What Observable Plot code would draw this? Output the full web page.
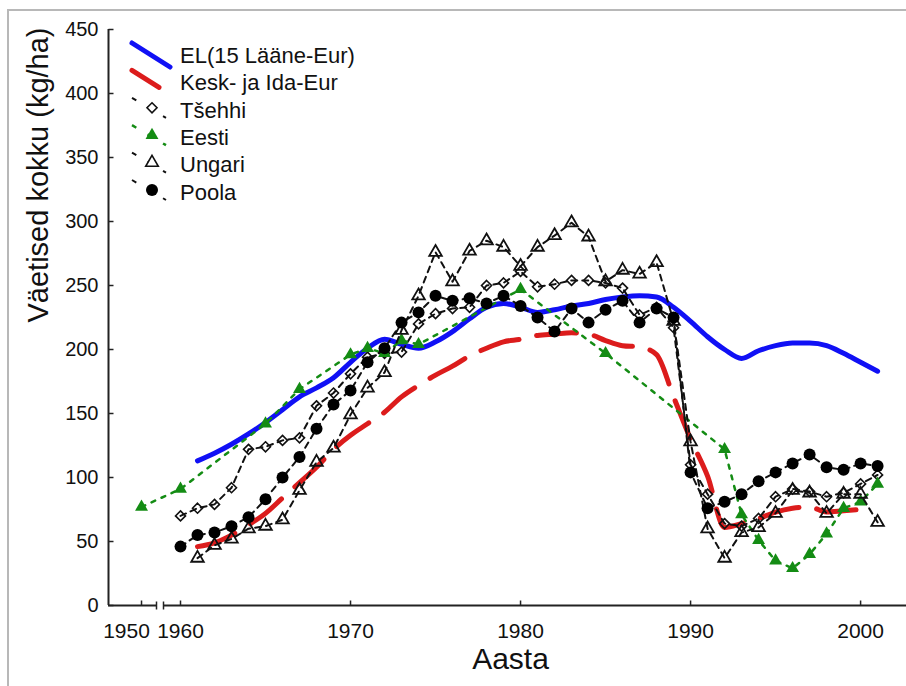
<!DOCTYPE html>
<html><head><meta charset="utf-8">
<script src="https://cdn.jsdelivr.net/npm/d3@7"></script>
<script src="https://cdn.jsdelivr.net/npm/@observablehq/plot@0.6"></script>
<style>
body{margin:0;background:#fff;font-family:"Liberation Sans",Arial,sans-serif;}
#wrap{position:relative;width:906px;height:686px;overflow:hidden;background:#fff;}
#border{position:absolute;left:7px;top:9px;width:920px;height:700px;border-top:2px solid #b8b8b8;border-left:2px solid #b8b8b8;}
#chart{position:absolute;left:0;top:0;}
#legend{position:absolute;left:0;top:0;}
</style></head><body>
<div id="wrap"><div id="border"></div><div id="chart"></div><svg id="legend" width="400" height="210"></svg></div>
<script>
// ---- data ----
const yearsFrom1960 = [1960,1961,1962,1963,1964,1965,1966,1967,1968,1969,1970,1971,1972,1973,1974,1975,1976,1977,1978,1979,1980,1981,1982,1983,1984,1985,1986,1987,1988,1989,1990,1991,1992,1993,1994,1995,1996,1997,1998,1999,2000,2001];
const yearsFrom1961 = yearsFrom1960.slice(1);
const yearsTo2000 = yearsFrom1961.slice(0, 40);

const elValues = [113,119,126,134,143,153,163,170,178,190,201,208,204,201,206,214,224,233,236,233,229,231,234,236,239,241,242,241,233,222,210,200,193,199,203,205,205,203,197,190,183];
const keskIdaValues = [46,49,55,63,72,84,96,108,122,133,142,151,163,172,180,187,195,201,206,208,211,212,213,212,207,203,202,196,163,130,101,61,64,68,73,76,77,73,74,75];
const tsehhiValues = [70,76,79,92,122,124,129,131,156,166,181,194,197,198,220,228,232,233,250,252,261,249,251,254,254,252,248,227,233,217,110,87,64,62,68,85,91,89,85,88,95,102];
const eestiYears = [1950,1960,1965,1967,1970,1971,1972,1973,1974,1980,1985,1992,1993,1994,1995,1996,1997,1998,1999,2000,2001];
const eestiValues = [77,91,142,169,196,201,197,207,204,247,197,122,71,51,35,29,40,56,76,81,95];
const ungariValues = [37,47,52,60,62,67,90,112,123,149,170,182,215,242,276,253,277,285,280,265,280,289,299,288,253,262,259,268,222,128,60,37,57,61,72,90,88,72,87,87,65];
const poolaValues = [46,55,57,62,69,83,100,116,138,157,168,190,201,221,229,242,238,240,236,242,234,225,214,232,221,231,238,221,232,225,104,76,81,87,97,104,111,118,108,106,111,109];

const seriesNames = ["EL(15 Lääne-Eur)","Kesk- ja Ida-Eur","Tšehhi","Eesti","Ungari","Poola"];
const xTickValues = [1950,1960,1970,1980,1990,2000];
const yTickValues = [0,50,100,150,200,250,300,350,400,450];
const xTitle = "Aasta";
const yTitle = "Väetised kokku (kg/ha)";

// ---- scale config (broken axis) ----
const xDomain = [1948.06, 1950.88, 1959.0, 2002.7];
const xRange = [108, 156, 163, 906];

const pts = (years, vals) => years.map((y, i) => ({year: y, value: vals[i]}));
const el = pts(yearsFrom1961, elValues);
const ki = pts(yearsTo2000, keskIdaValues);
const ts = pts(yearsFrom1960, tsehhiValues);
const ee = pts(eestiYears, eestiValues);
const un = pts(yearsFrom1961, ungariValues);
const po = pts(yearsFrom1960, poolaValues);

const BLUE = "#1010f5", RED = "#dc1c1c", GREEN = "#148c14", BLACK = "#111";
const blackDash = "6,5", greenDash = "4,7";

const tickUp = {draw(c){c.moveTo(0,0);c.lineTo(0,-5);}};
const tickRight = {draw(c){c.moveTo(0,0);c.lineTo(5,0);}};
const breakBar = {draw(c){c.moveTo(0,-4);c.lineTo(0,4);}};

const axisFont = "Liberation Sans, Arial, sans-serif";

const chart = Plot.plot({
  width: 906, height: 686,
  marginLeft: 108, marginRight: 0, marginTop: 29, marginBottom: 81,
  style: {fontFamily: axisFont, background: "transparent", overflow: "visible"},
  x: {type: "linear", domain: xDomain, range: xRange, axis: null},
  y: {domain: [0, 450], axis: null},
  marks: [
    // axis lines
    Plot.ruleX([xDomain[0]], {stroke: "#222", strokeWidth: 2}),
    Plot.ruleY([0], {x1: xDomain[0], x2: xDomain[1], stroke: "#222", strokeWidth: 2}),
    Plot.ruleY([0], {x1: xDomain[2], x2: xDomain[3], stroke: "#222", strokeWidth: 2}),
    Plot.dot([xDomain[1], xDomain[2]], {x: d => d, y: 0, symbol: breakBar, stroke: "#222", strokeWidth: 1.5}),
    Plot.dot(xTickValues, {x: d => d, y: 0, symbol: tickUp, stroke: "#222", strokeWidth: 1.5}),
    Plot.dot(yTickValues, {x: xDomain[0], y: d => d, symbol: tickRight, stroke: "#222", strokeWidth: 1.5}),
    Plot.axisX(xTickValues.filter(d => d !== 1950), {tickSize: 0, tickPadding: 18, fontSize: 21, label: null, tickFormat: d => String(d), fill: "#111"}),
    Plot.axisX([1950], {tickSize: 0, tickPadding: 18, fontSize: 21, label: null, tickFormat: d => String(d), dx: -15, fill: "#111"}),
    Plot.axisY(yTickValues, {tickSize: 0, tickPadding: 10, fontSize: 20, label: null, fill: "#111"}),
    Plot.text([yTitle], {text: d => d, frameAnchor: "left", rotate: -90, dx: -70, dy: 5, fontSize: 29, fill: "#111"}),
    Plot.text([xTitle], {text: d => d, frameAnchor: "bottom", dx: 3, dy: 63, fontSize: 30, fill: "#111"}),
    // series
    Plot.line(el, {x: "year", y: "value", stroke: BLUE, strokeWidth: 5, curve: "monotone-x", strokeLinecap: "round"}),
    Plot.line(ki, {x: "year", y: "value", stroke: RED, strokeWidth: 5, curve: "monotone-x", strokeDasharray: "40,18", strokeLinecap: "round"}),
    Plot.line(ts, {x: "year", y: "value", stroke: BLACK, strokeWidth: 2, strokeDasharray: blackDash}),
    Plot.dot(ts, {x: "year", y: "value", symbol: "diamond2", r: 4.5, stroke: BLACK, strokeWidth: 1.6, fill: "none"}),
    Plot.line(ee, {x: "year", y: "value", stroke: GREEN, strokeWidth: 2.5, strokeDasharray: greenDash}),
    Plot.dot(ee, {x: "year", y: "value", symbol: "triangle", r: 4.8, fill: GREEN, stroke: "none"}),
    Plot.line(un, {x: "year", y: "value", stroke: BLACK, strokeWidth: 2, strokeDasharray: blackDash}),
    Plot.dot(un, {x: "year", y: "value", symbol: "triangle2", r: 6, stroke: BLACK, strokeWidth: 1.8, fill: "none"}),
    Plot.line(po, {x: "year", y: "value", stroke: BLACK, strokeWidth: 2, strokeDasharray: blackDash}),
    Plot.dot(po, {x: "year", y: "value", symbol: "circle", r: 6, fill: "#000", stroke: "none"})
  ]
});
document.getElementById("chart").appendChild(chart);

// ---- legend ----
const legendItems = [
  {name: seriesNames[0], kind: "line", color: BLUE, width: 5, x1: 132, dy1: -12, x2: 170, dy2: 12},
  {name: seriesNames[1], kind: "line", color: RED, width: 5, x1: 132, dy1: -12, x2: 159, dy2: 5},
  {name: seriesNames[2], kind: "marker", color: BLACK, dash: blackDash, symbol: d3.symbolDiamond2, r: 4.5, fill: "none"},
  {name: seriesNames[3], kind: "marker", color: GREEN, dash: greenDash, symbol: d3.symbolTriangle, r: 4.8, fill: GREEN},
  {name: seriesNames[4], kind: "marker", color: BLACK, dash: blackDash, symbol: d3.symbolTriangle2, r: 6, fill: "none"},
  {name: seriesNames[5], kind: "marker", color: BLACK, dash: blackDash, symbol: d3.symbolCircle, r: 6, fill: "#000"}
];
const lg = d3.select("#legend");
legendItems.forEach((it, i) => {
  const cy = 55 + i * 27.4;
  if (it.kind === "line") {
    lg.append("line").attr("x1", it.x1).attr("y1", cy + it.dy1).attr("x2", it.x2).attr("y2", cy + it.dy2)
      .attr("stroke", it.color).attr("stroke-width", it.width).attr("stroke-linecap", "round");
  } else {
    lg.append("line").attr("x1", 132).attr("y1", cy - 12).attr("x2", 166).attr("y2", cy + 8)
      .attr("stroke", it.color).attr("stroke-width", it.color === GREEN ? 2.5 : 2).attr("stroke-dasharray", "5,13");
    const area = Math.PI * it.r * it.r;
    lg.append("path").attr("d", d3.symbol(it.symbol, area)())
      .attr("transform", `translate(152,${cy - 2})`)
      .attr("fill", it.fill === "none" ? "#fff" : it.fill)
      .attr("stroke", it.fill === "none" ? it.color : "none").attr("stroke-width", 1.6);
  }
  lg.append("text").attr("x", 180).attr("y", cy).attr("dy", "0.35em")
    .attr("font-family", axisFont).attr("font-size", 22).attr("fill", "#111").text(it.name);
});
</script>
</body></html>
